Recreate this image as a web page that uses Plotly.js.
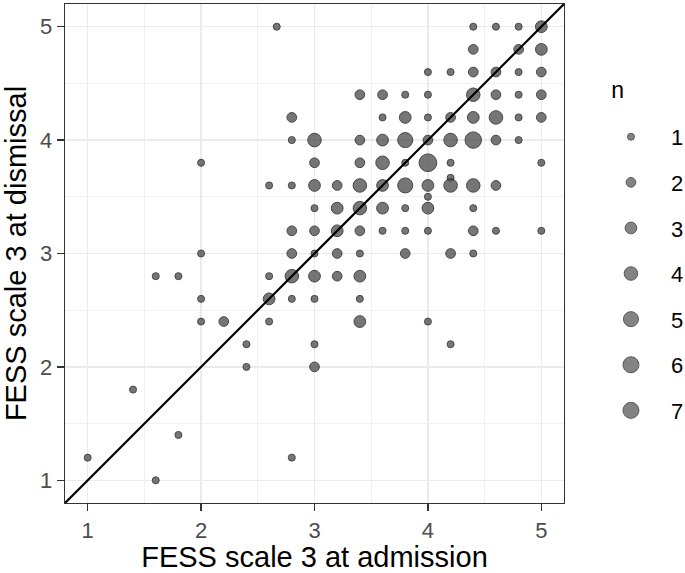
<!DOCTYPE html>
<html>
<head>
<meta charset="utf-8">
<script src="https://cdn.plot.ly/plotly-3.0.1.min.js"></script>
<style>html,body{margin:0;padding:0;background:#fff;}#chart{width:685px;height:573px;}</style>
</head>
<body>
<div id="chart"></div>
<script>
// FESS scale 3: admission (x), dismissal (y), count of patients (n)
const admission = [
  2.667, 4.4, 4.6, 4.8, 5.0,
  4.4, 4.8, 5.0,
  4.0, 4.2, 4.4, 4.6, 4.8, 5.0,
  3.4, 3.6, 3.8, 4.0, 4.4, 4.6, 4.8, 5.0,
  2.8, 3.6, 3.8, 4.0, 4.2, 4.4, 4.6, 4.8, 5.0,
  2.8, 3.0, 3.4, 3.6, 3.8, 4.0, 4.2, 4.4, 4.6, 4.8,
  2.0, 3.0, 3.4, 3.6, 3.8, 4.0, 4.2, 5.0,
  4.2,
  2.6, 2.8, 3.0, 3.2, 3.4, 3.6, 3.8, 4.0, 4.2, 4.4, 4.6,
  4.0,
  3.0, 3.2, 3.4, 3.6, 3.8, 4.0, 4.4,
  2.8, 3.0, 3.2, 3.4, 3.6, 3.8, 4.0, 4.4, 4.6, 5.0,
  2.0, 2.8, 3.0, 3.2, 3.4, 3.8, 4.2, 4.4,
  1.6, 1.8, 2.6, 2.8, 3.0, 3.2, 3.4,
  2.0, 2.6, 2.8, 3.0, 3.4,
  2.0, 2.2, 2.6, 3.4, 4.0,
  2.4, 3.0, 4.2,
  2.4, 3.0,
  1.4,
  1.8,
  1.0, 2.8,
  1.6
];
const dismissal = [
  5.0, 5.0, 5.0, 5.0, 5.0,
  4.8, 4.8, 4.8,
  4.6, 4.6, 4.6, 4.6, 4.6, 4.6,
  4.4, 4.4, 4.4, 4.4, 4.4, 4.4, 4.4, 4.4,
  4.2, 4.2, 4.2, 4.2, 4.2, 4.2, 4.2, 4.2, 4.2,
  4.0, 4.0, 4.0, 4.0, 4.0, 4.0, 4.0, 4.0, 4.0, 4.0,
  3.8, 3.8, 3.8, 3.8, 3.8, 3.8, 3.8, 3.8,
  3.667,
  3.6, 3.6, 3.6, 3.6, 3.6, 3.6, 3.6, 3.6, 3.6, 3.6, 3.6,
  3.5,
  3.4, 3.4, 3.4, 3.4, 3.4, 3.4, 3.4,
  3.2, 3.2, 3.2, 3.2, 3.2, 3.2, 3.2, 3.2, 3.2, 3.2,
  3.0, 3.0, 3.0, 3.0, 3.0, 3.0, 3.0, 3.0,
  2.8, 2.8, 2.8, 2.8, 2.8, 2.8, 2.8,
  2.6, 2.6, 2.6, 2.6, 2.6,
  2.4, 2.4, 2.4, 2.4, 2.4,
  2.2, 2.2, 2.2,
  2.0, 2.0,
  1.8,
  1.4,
  1.2, 1.2,
  1.0
];
const counts = [
  1, 1, 1, 1, 3,
  2, 2, 3,
  1, 1, 2, 2, 1, 2,
  2, 2, 1, 1, 4, 2, 1, 2,
  2, 1, 3, 1, 2, 3, 4, 1, 2,
  1, 4, 2, 3, 5, 2, 4, 6, 2, 1,
  1, 2, 2, 4, 1, 7, 1, 1,
  1,
  1, 1, 3, 2, 4, 3, 5, 3, 4, 4, 2,
  1,
  1, 3, 4, 3, 1, 3, 1,
  2, 2, 3, 2, 1, 1, 1, 2, 1, 1,
  1, 2, 1, 2, 1, 2, 2, 1,
  1, 1, 1, 4, 3, 2, 3,
  1, 3, 1, 1, 1,
  1, 2, 1, 3, 1,
  1, 1, 1,
  1, 2,
  1,
  1,
  1, 1,
  1
];
const legendCounts = [1, 2, 3, 4, 5, 6, 7];
const tickVals = [1, 2, 3, 4, 5];
const refIntercept = 0, refSlope = 1; // identity line

// style
const axisRange = [0.8, 5.2];
const dMin = 7, dMax = 17.7; // marker diameters for n=1 and n=7 (area-type scale)
function sizeOf(n) {
  const lo = Math.sqrt(1), hi = Math.sqrt(7);
  return dMin + (Math.sqrt(n) - lo) / (hi - lo) * (dMax - dMin);
}
const ptFill = 'rgb(80,80,80)';
const ptLine = 'rgb(20,20,20)';
const font = 'Liberation Sans, Arial, Helvetica, sans-serif';

const traces = [{
  type: 'scatter', mode: 'markers',
  x: admission, y: dismissal,
  showlegend: false, hoverinfo: 'x+y+text', text: counts.map(String),
  marker: { size: counts.map(sizeOf), color: ptFill, opacity: 0.78,
            line: { color: ptLine, width: 1 } }
}];
legendCounts.forEach(n => {
  traces.push({
    type: 'scatter', mode: 'markers', x: [null], y: [null],
    name: String(n), legendgroup: 'n' + n, showlegend: true,
    marker: { size: sizeOf(n), color: ptFill, opacity: 0.7,
              line: { color: ptLine, width: 1 } }
  });
});

function axis(title) {
  return {
    range: axisRange, tickmode: 'array', tickvals: tickVals, ticktext: tickVals.map(String),
    ticks: 'outside', ticklen: 7, tickwidth: 1.3, tickcolor: '#333333',
    tickfont: { family: font, size: 22, color: '#4D4D4D' },
    showgrid: true, gridcolor: '#EBEBEB', gridwidth: 1.3,
    minor: { tickmode: 'linear', tick0: 0.5, dtick: 0.5, showgrid: true, gridcolor: '#EBEBEB', gridwidth: 0.7, ticks: '' },
    zeroline: false, showline: true, mirror: true, linecolor: '#333333', linewidth: 1.3,
    automargin: false,
    title: { text: title, font: { family: font, size: 29, color: '#000' }, standoff: 5 },
    fixedrange: true
  };
}

const nbsp = '\u00a0';
const layout = {
  width: 685, height: 573,
  margin: { l: 65, r: 121, t: 4, b: 70, pad: 0, autoexpand: false },
  paper_bgcolor: '#fff', plot_bgcolor: '#fff',
  font: { family: font, color: '#000' },
  xaxis: axis('FESS scale 3 at admission'),
  yaxis: axis('FESS scale 3 at dismissal'),
  showlegend: true,
  legend: {
    x: 1.054, xanchor: 'left', y: 0.8486, yanchor: 'top',
    font: { family: font, size: 22, color: '#000' },
    title: { text: '<span style="font-size:23px">n' + nbsp.repeat(7) + '</span><br>' + nbsp, side: 'top center', font: { family: font, size: 14, color: '#000' } },
    tracegroupgap: 14, itemwidth: 70, bgcolor: 'rgba(0,0,0,0)'
  },
  shapes: [{
    type: 'line', xref: 'x', yref: 'y', layer: 'above',
    x0: axisRange[0], y0: refIntercept + refSlope * axisRange[0],
    x1: axisRange[1], y1: refIntercept + refSlope * axisRange[1],
    line: { color: '#000', width: 2.2 }
  }]
};

Plotly.newPlot('chart', traces, layout, { displayModeBar: false, staticPlot: true });
</script>
</body>
</html>
